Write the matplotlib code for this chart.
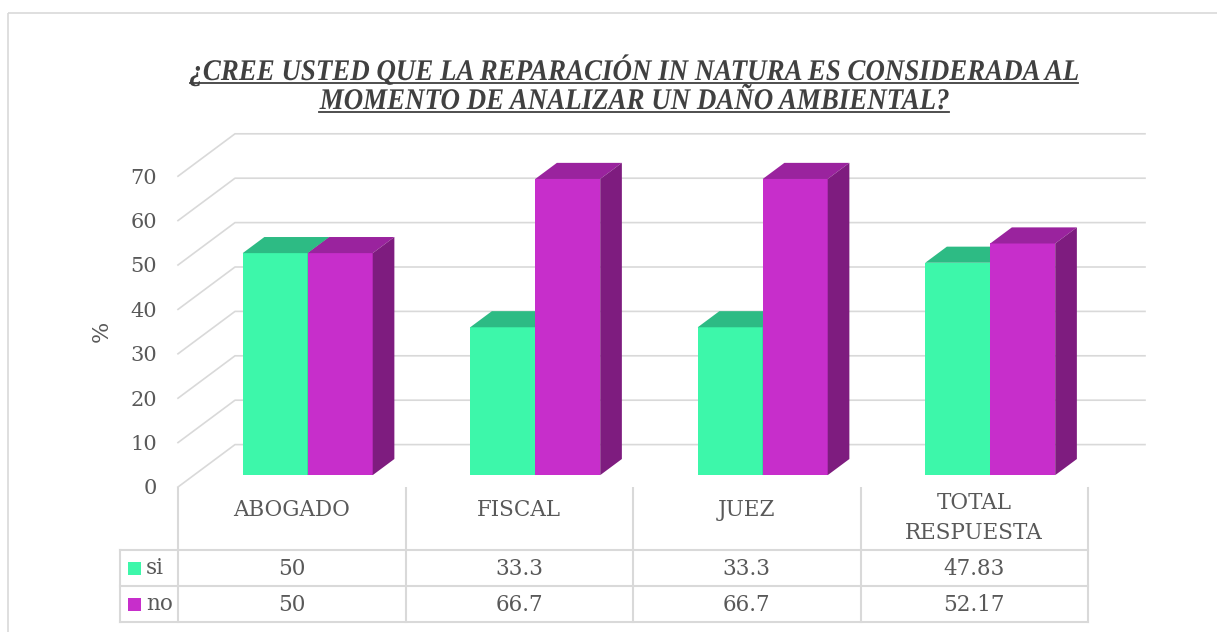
import matplotlib
matplotlib.use('Agg')
import matplotlib.pyplot as plt
import matplotlib.transforms as mtransforms
from matplotlib.patches import Polygon, Rectangle, PathPatch
from matplotlib.textpath import TextPath
from matplotlib.font_manager import FontProperties

# data
categories = ['ABOGADO', 'FISCAL', 'JUEZ', 'TOTAL\nRESPUESTA']
series_names = ['si', 'no']
si_values = [50, 33.3, 33.3, 47.83]
no_values = [50, 66.7, 66.7, 52.17]
si_labels = ['50', '33.3', '33.3', '47.83']
no_labels = ['50', '66.7', '66.7', '52.17']
y_ticks = [0, 10, 20, 30, 40, 50, 60, 70]
title_lines = ['¿CREE USTED QUE LA REPARACIÓN IN NATURA ES CONSIDERADA AL',
               'MOMENTO DE ANALIZAR UN DAÑO AMBIENTAL?']

# colours: front, top, side
si_cols = ('#3DF7AA', '#2DBB84', '#2A9E70')
no_cols = ('#C72ECB', '#9A239E', '#7E1C7F')
grid_col = '#D9D9D9'
txt_col = '#595959'

W, H = 1217, 632
fig = plt.figure(figsize=(W / 100, H / 100), dpi=100)

# overlay in pixel coords for border, title and table
ov = fig.add_axes([0, 0, 1, 1])
ov.set_xlim(0, W)
ov.set_ylim(H, 0)
ov.axis('off')

ov.add_patch(Rectangle((8, 13), W, H, fill=False, ec=grid_col, lw=1.2, clip_on=False))

# chart area (front plane): x 178..1088 px, value 0 at y=487, 4.44 px per unit
x_left, x_right = 178, 1088
y_zero, px_per_unit = 487, 4.44
ax = fig.add_axes([x_left / W, (H - y_zero) / H, (x_right - x_left) / W, 70 * px_per_unit / H])
ax.set_xlim(0, len(categories))
ax.set_ylim(0, 70)
for s in ax.spines.values():
    s.set_visible(False)
ax.set_xticks([])
ax.set_yticks(y_ticks)
ax.set_yticklabels([str(t) for t in y_ticks])
ax.tick_params(axis='y', length=0, pad=15, labelsize=15, labelcolor=txt_col)
for lab in ax.get_yticklabels():
    lab.set_family('DejaVu Serif')
ax.set_ylabel('%', fontsize=16, color=txt_col, family='DejaVu Serif')
ax.yaxis.set_label_coords(-0.072, 0.5)

col_px = (x_right - x_left) / len(categories)
DX = 57 / col_px          # full depth, x offset in category units
DY = 42.4 / px_per_unit   # full depth, y offset in value units

# gridlines in oblique projection
for v in y_ticks:
    ax.plot([0, DX, len(categories) + DX], [v, v + DY, v + DY], color=grid_col, lw=1.2,
            clip_on=False, zorder=1)

# bars
f0 = 0.28            # depth position of bar front
fd = 0.38            # depth of bar
bw = 65 / col_px
ddx, ddy = fd * DX, fd * DY


def draw_bar(x0, y0, v, cols):
    front, top, side = cols
    ax.add_patch(Polygon([(x0, y0), (x0 + bw, y0), (x0 + bw, y0 + v), (x0, y0 + v)],
                         closed=True, fc=front, ec='none', clip_on=False, zorder=3))
    ax.add_patch(Polygon([(x0, y0 + v), (x0 + bw, y0 + v), (x0 + bw + ddx, y0 + v + ddy),
                          (x0 + ddx, y0 + v + ddy)],
                         closed=True, fc=top, ec='none', clip_on=False, zorder=3))
    ax.add_patch(Polygon([(x0 + bw, y0), (x0 + bw + ddx, y0 + ddy), (x0 + bw + ddx, y0 + v + ddy),
                          (x0 + bw, y0 + v)],
                         closed=True, fc=side, ec='none', clip_on=False, zorder=3))


for i in range(len(categories)):
    cx = i + 0.5 + f0 * DX
    y0 = f0 * DY
    draw_bar(cx - bw, y0, si_values[i], si_cols)
    draw_bar(cx, y0, no_values[i], no_cols)

# title, condensed bold italic serif with underline
fp = FontProperties(family='Liberation Serif', weight='bold', style='italic')
title_size = 30
paths = [TextPath((0, 0), s, size=title_size, prop=fp) for s in title_lines]
sx = 888 / paths[0].get_extents().width
title_base = [80, 109]
title_cx = 634
for tp, yb in zip(paths, title_base):
    bb = tp.get_extents()
    tr = mtransforms.Affine2D().translate(-bb.x0 - bb.width / 2, 0).scale(sx, -1).translate(title_cx, yb)
    ov.add_patch(PathPatch(tr.transform_path(tp), fc='#404040', ec='none'))
    half = bb.width * sx / 2
    ov.plot([title_cx - half, title_cx + half], [yb + 3, yb + 3], color='#404040', lw=1.3)

# data table
col_edges = [x_left + i * col_px for i in range(len(categories) + 1)]
leg_left = 120
head_top, row1, row2, row3 = 488, 550, 586, 622
for xe in col_edges:
    ov.plot([xe, xe], [head_top, row3], color=grid_col, lw=1.5)
ov.plot([leg_left, leg_left], [row1, row3], color=grid_col, lw=1.5)
for yl in (row1, row2, row3):
    ov.plot([leg_left, x_right], [yl, yl], color=grid_col, lw=1.5)

tfont = dict(family='DejaVu Serif', color=txt_col, fontsize=15.5, ha='center', va='center')
for i, cat in enumerate(categories):
    xc = (col_edges[i] + col_edges[i + 1]) / 2
    ov.text(xc, 510 if '\n' not in cat else 518, cat, linespacing=1.45, **tfont)
    ov.text(xc, (row1 + row2) / 2 + 1, si_labels[i], **tfont)
    ov.text(xc, (row2 + row3) / 2 + 1, no_labels[i], **tfont)

for name, cols, (ya, yb) in zip(series_names, (si_cols, no_cols), ((row1, row2), (row2, row3))):
    ym = (ya + yb) / 2
    ov.add_patch(Rectangle((128, ym - 6.5), 13, 13, fc=cols[0], ec='none'))
    ov.text(146, ym, name, family='DejaVu Serif', color=txt_col, fontsize=15.5, ha='left', va='center')

fig.savefig('out.png', dpi=100)
